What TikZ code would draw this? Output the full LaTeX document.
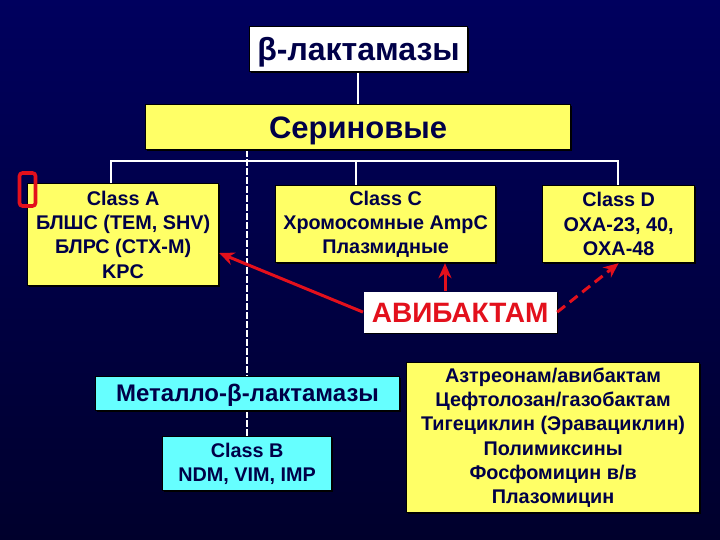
\documentclass[tikz,border=0pt]{standalone}
\usepackage{fontspec}
\setmainfont{Liberation Sans}
\usetikzlibrary{arrows.meta,calc}
\definecolor{navy}{HTML}{000048}
\definecolor{bgtop}{HTML}{00005E}
\definecolor{bgbot}{HTML}{00002C}
\definecolor{yel}{HTML}{FFFF66}
\definecolor{cya}{HTML}{66FFFF}
\definecolor{redd}{HTML}{E3101C}
\tikzset{
  box/.style={draw=black,line width=1.2pt,fill=#1,inner sep=0pt,anchor=north west,align=center,text=navy,font=\fontsize{19.8}{24.3}\selectfont\bfseries},
  conn/.style={draw=white,line width=1.6pt},
  connd/.style={draw=white,line width=1.6pt,dash pattern=on 7pt off 2pt},
  redarrow/.style={draw=redd,line width=3pt,-{Stealth[length=15pt,width=13pt]}},
}
\newcommand{\bx}[7]{\fill[black] (#3) ++(2,2) rectangle +(#4,#5);\node[box=#1,minimum width=#4pt,minimum height=#5pt,#7] (#2) at (#3) {#6};}
\newcommand{\lowered}[2]{\raisebox{-#1pt}[0pt][0pt]{#2}}
\begin{document}
\begin{tikzpicture}[x=1pt,y=-1pt]
\useasboundingbox (0,0) rectangle (720,540);
\shade[top color=bgtop,bottom color=bgbot] (0,0) rectangle (720,540);
\coordinate (h1) at (111,161);
\coordinate (h3) at (618,161);
\coordinate (h2) at (356,161);
\coordinate (dt) at (247,150);
\coordinate (dm) at (247,376);
\coordinate (db) at (247,411);
\coordinate (dc) at (247,436);
% connectors behind boxes
\draw[conn] (358,72) -- (358,104);
\draw[conn] (111,183) -- (h1) -- (h3) -- (618,185);
\draw[conn] (h2) -- (356,185);
\draw[connd] (dt) -- (dm);
\draw[connd] (db) -- (dc);
% boxes
\bx{white}{t}{249,26}{218}{45}{\fontsize{32}{34}\selectfont\lowered{11.5}{β-лактамазы}}{}
\bx{yel}{s}{145,104}{425}{45}{\fontsize{31}{34}\selectfont\lowered{11}{Сериновые}}{}
\bx{yel}{a}{27,183}{191}{102}{Class A\\БЛШС (TEM, SHV)\\БЛРС (CTX-M)\\KPC}{}
\bx{yel}{c}{275,185}{220}{77}{Class C\\Хромосомные AmpC\\Плазмидные}{}
\bx{yel}{d}{542,185}{152}{77}{Class D\\OXA-23, 40,\\OXA-48}{}
\bx{white}{av}{363,291}{193}{41}{\fontsize{28}{30}\selectfont\color{redd}\lowered{10}{АВИБАКТАМ}}{draw=none}
\bx{cya}{m}{95,376}{304}{34}{\fontsize{24}{26}\selectfont\lowered{8}{Металло-β-лактамазы}}{}
\bx{cya}{b}{162,436}{169}{54}{Class B\\NDM, VIM, IMP}{}
\bx{yel}{r}{406,362}{293}{150}{\fontsize{19.8}{24}\selectfont Азтреонам/авибактам\\Цефтолозан/газобактам\\Тигециклин (Эравациклин)\\Полимиксины\\Фосфомицин в/в\\Плазомицин}{}
% red marker
\node[draw=redd,line width=3.6pt,rounded corners=3pt,minimum width=16pt,minimum height=33pt,inner sep=0pt] (mark) at (27.5,189.5) {};
% arrows
\draw[redarrow] (av.west) -- (a.east |- 0,253);
\draw[redarrow] (av.north -| 445,0) -- (c.south -| 445,0);
\draw[redarrow,dash pattern=on 10pt off 6pt] (av.east) -- (d.south);
\end{tikzpicture}
\end{document}
